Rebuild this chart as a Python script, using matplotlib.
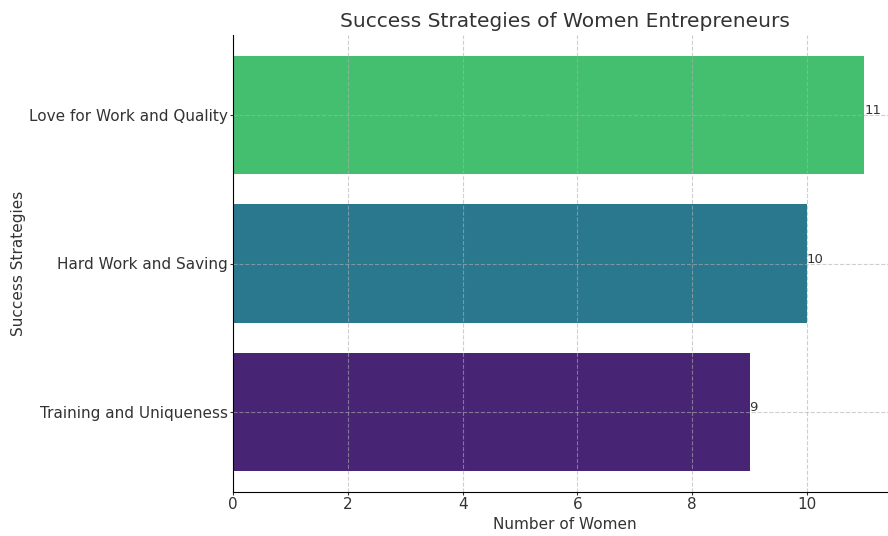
import matplotlib
matplotlib.use("Agg")
import matplotlib.pyplot as plt

# success strategies and how many women named each
strategies = ["Training and Uniqueness", "Hard Work and Saving", "Love for Work and Quality"]
counts = [9, 10, 11]
colors = ["#482475", "#2a788e", "#44bf70"]

text_color = "#333333"

fig = plt.figure(figsize=(8.88, 5.36), dpi=100)
ax = fig.add_axes([233 / 888, 44 / 536, 663 / 888, 457 / 536])

bars = ax.barh(strategies, counts, color=colors)
for bar, n in zip(bars, counts):
    ax.annotate(str(n), (bar.get_width(), bar.get_y() + bar.get_height() / 2),
                xytext=(0, 3), textcoords="offset points",
                va="center", ha="left", fontsize=9.5, color=text_color)

ax.set_title("Success Strategies of Women Entrepreneurs", fontsize=14.5, color=text_color)
ax.set_xlabel("Number of Women", fontsize=11, color=text_color, labelpad=3.5)
ax.set_ylabel("Success Strategies", fontsize=11, color=text_color, labelpad=2)
ax.tick_params(labelsize=11, colors=text_color, length=2, pad=1.5)
ax.grid(True, linestyle="--", alpha=0.6)
ax.spines["top"].set_visible(False)
ax.spines["right"].set_visible(False)

fig.savefig("out.png", dpi=100)
